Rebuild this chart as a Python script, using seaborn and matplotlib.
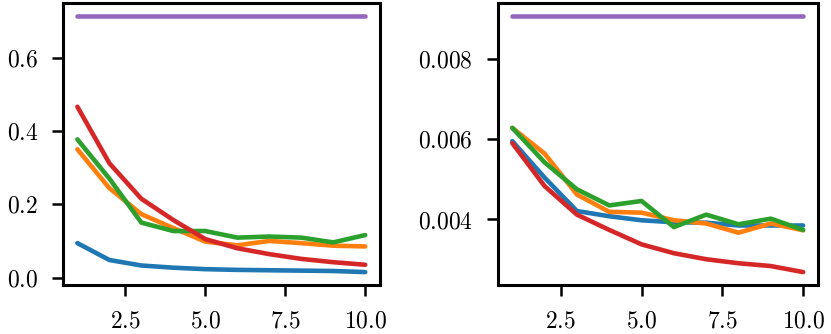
import numpy as np
import pandas as pd
import matplotlib
matplotlib.use('Agg')
import matplotlib.pyplot as plt
import seaborn as sns

steps = list(range(1, 11))
series_names = ['blue', 'orange', 'green', 'red', 'purple']
palette = ['#1f77b4', '#ff7f0e', '#2ca02c', '#d62728', '#9467bd']

left_blue = [0.094, 0.048, 0.033, 0.027, 0.023, 0.021, 0.020, 0.019, 0.018, 0.015]
left_orange = [0.350, 0.244, 0.173, 0.135, 0.098, 0.088, 0.100, 0.094, 0.087, 0.085]
left_green = [0.377, 0.270, 0.150, 0.127, 0.127, 0.109, 0.112, 0.109, 0.096, 0.116]
left_red = [0.466, 0.312, 0.215, 0.157, 0.105, 0.080, 0.064, 0.051, 0.042, 0.035]
left_purple = [0.714] * 10

right_blue = [0.00595, 0.00504, 0.00421, 0.00408, 0.00398, 0.00393, 0.00392, 0.00385, 0.00385, 0.00385]
right_orange = [0.00628, 0.00564, 0.00462, 0.00419, 0.00417, 0.00398, 0.00390, 0.00367, 0.00390, 0.00373]
right_green = [0.00628, 0.00542, 0.00475, 0.00435, 0.00446, 0.00381, 0.00412, 0.00388, 0.00402, 0.00374]
right_red = [0.00590, 0.00483, 0.00412, 0.00374, 0.00338, 0.00316, 0.00301, 0.00291, 0.00284, 0.00269]
right_purple = [0.00907] * 10


def to_frame(cols):
    rows = []
    for name, vals in zip(series_names, cols):
        for s, v in zip(steps, vals):
            rows.append({'step': s, 'value': v, 'series': name})
    return pd.DataFrame(rows)


def draw(ax, data):
    sns.lineplot(data=data, x='step', y='value', hue='series',
                 palette=palette, linewidth=3.3, ax=ax, legend=False)
    ax.set_xlabel('')
    ax.set_ylabel('')
    ax.set_xticks([2.5, 5.0, 7.5, 10.0])
    for sp in ax.spines.values():
        sp.set_linewidth(2.2)
        sp.set_color('black')
    ax.tick_params(length=8, width=1.8, pad=10, labelsize=17,
                   color='black', labelcolor='black')


sns.set_style('ticks')
plt.rcParams['font.family'] = ['cmr10', 'DejaVu Serif']
plt.rcParams['axes.formatter.use_mathtext'] = True

fig = plt.figure(figsize=(8.31, 3.34), dpi=100)
ax1 = fig.add_axes([0.0758, 0.147, 0.381, 0.844])
ax2 = fig.add_axes([0.599, 0.147, 0.385, 0.844])

draw(ax1, to_frame([left_blue, left_orange, left_green, left_red, left_purple]))
draw(ax2, to_frame([right_blue, right_orange, right_green, right_red, right_purple]))
ax1.set_yticks([0.0, 0.2, 0.4, 0.6])
ax2.set_yticks([0.004, 0.006, 0.008])

fig.savefig('out.png', dpi=100)
